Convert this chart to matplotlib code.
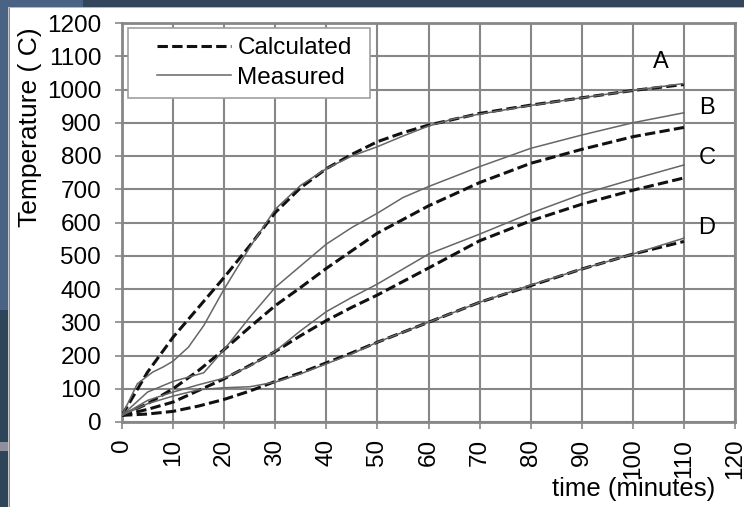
import matplotlib
matplotlib.use("Agg")
import matplotlib.pyplot as plt
from matplotlib import font_manager
from matplotlib.patches import Rectangle
from matplotlib.lines import Line2D
from matplotlib.legend_handler import HandlerLine2D

# ---- data (time in minutes, temperature in deg C) ----
t_a_calc = [0, 5, 10, 15, 20, 25, 30, 35, 40, 45, 50, 55, 60, 70, 80, 90, 100, 110]
a_calc = [20, 150, 255, 345, 435, 530, 630, 705, 762, 805, 843, 870, 893, 928, 953, 975, 997, 1015]
t_a_meas = [0, 3, 6, 8, 10, 13, 16, 20, 25, 30, 35, 40, 45, 50, 55, 60, 65, 70, 80, 90, 100, 110]
a_meas = [20, 115, 150, 165, 183, 225, 290, 400, 525, 640, 712, 762, 800, 828, 860, 890, 912, 926, 952, 975, 997, 1018]

t_b_meas = [0, 5, 10, 13, 16, 20, 25, 30, 35, 40, 45, 50, 55, 60, 70, 80, 90, 100, 110]
b_meas = [20, 90, 122, 135, 148, 218, 315, 405, 470, 535, 585, 628, 675, 708, 768, 823, 863, 900, 930]
t_std = [0, 5, 10, 15, 20, 25, 30, 35, 40, 45, 50, 60, 70, 80, 90, 100, 110]
b_calc = [20, 55, 100, 155, 218, 285, 350, 405, 462, 515, 568, 650, 720, 778, 820, 858, 886]

c_meas = [20, 65, 90, 112, 132, 168, 213, 275, 332, 375, 415, 505, 565, 628, 685, 730, 773]
c_calc = [20, 38, 60, 95, 130, 170, 212, 260, 305, 345, 382, 463, 545, 605, 655, 697, 734]

d_meas = [20, 55, 78, 97, 103, 106, 120, 145, 175, 205, 240, 300, 360, 412, 460, 505, 553]
d_calc = [20, 24, 32, 48, 68, 93, 122, 148, 178, 208, 240, 300, 360, 410, 460, 505, 543]

curve_names = ["A", "B", "C", "D"]
name_pos_x = [105.5, 114.5, 114.5, 114.5]
name_pos_y = [1083, 944, 794, 583]

x_ticks = list(range(0, 121, 10))
y_ticks = list(range(0, 1201, 100))

# ---- fonts ----
available = {f.name for f in font_manager.fontManager.ttflist}
def pick(*names):
    for n in names:
        if n in available:
            return n
    return "DejaVu Sans"

main_font = pick("Liberation Sans", "Arial", "DejaVu Sans")
plt.rcParams["font.family"] = [main_font, "DejaVu Sans"]

W, H = 744, 507
fig = plt.figure(figsize=(W / 100, H / 100), dpi=100, facecolor="white")

def px_rect(x0, y0, w, h, color, z=0):
    fig.add_artist(Rectangle((x0 / W, 1 - (y0 + h) / H), w / W, h / H,
                             transform=fig.transFigure, facecolor=color,
                             edgecolor="none", zorder=z))

# slide background peeking around the chart frame
px_rect(0, 0, W, 7, "#34465c")
px_rect(0, 0, 83, 7, "#4a6283")
px_rect(0, 0, 8, 310, "#4a6283")
px_rect(0, 310, 8, H - 310, "#2e4459")
px_rect(0, 442, 8, 9, "#8d8f9c")
px_rect(8, 7, W - 8, 1, "#b8b8b8")
px_rect(8, 7, 1, H - 7, "#c8c8c8")
px_rect(9, 8, 1.2, H - 8, "#8a8a8a")

ax = fig.add_axes([122 / W, 1 - 422 / H, 613 / W, 399 / H])
ax.set_xlim(0, 120)
ax.set_ylim(0, 1200)
ax.set_xticks(x_ticks)
ax.set_yticks(y_ticks)
ax.set_xticklabels([str(v) for v in x_ticks], rotation=90, va="top")
ax.grid(True, color="#878787", linewidth=1.5)
ax.set_axisbelow(True)
for s in ax.spines.values():
    s.set_color("#878787")
    s.set_linewidth(2.0)
ax.tick_params(axis="both", colors="#878787", labelcolor="black",
               labelsize=17.5, length=5, width=1.2)
ax.tick_params(axis="y", pad=10)
ax.tick_params(axis="x", pad=7)

calc_kw = dict(color="#111111", linewidth=2.2, dashes=(3.4, 1.4), zorder=3)
meas_kw = dict(color="#666666", linewidth=1.1, zorder=4)

ax.plot(t_a_calc, a_calc, **calc_kw)
ax.plot(t_std, b_calc, **calc_kw)
ax.plot(t_std, c_calc, **calc_kw)
ax.plot(t_std, d_calc, **calc_kw)
ax.plot(t_a_meas, a_meas, **meas_kw)
ax.plot(t_b_meas, b_meas, **meas_kw)
ax.plot(t_std, c_meas, **meas_kw)
ax.plot(t_std, d_meas, **meas_kw)

for name, xv, yv in zip(curve_names, name_pos_x, name_pos_y):
    ax.text(xv, yv, name, fontsize=17, ha="center", va="center")

handles = [Line2D([], [], **calc_kw), Line2D([], [], **meas_kw)]
leg = ax.legend(handles, ["Calculated", "Measured"], loc="upper left",
                bbox_to_anchor=(0.0098, 0.5, 0.395, 0.4875), mode="expand",
                prop={"size": 17.5},
                handler_map={Line2D: HandlerLine2D(xpad=0.8)},
                handlelength=3.87, handletextpad=0.25, labelspacing=0.3,
                borderpad=0.38, borderaxespad=0.0, fancybox=False, framealpha=1)
leg.get_frame().set_edgecolor("#a0a0a0")
leg.get_frame().set_linewidth(1.2)

fig.text(30 / W, 1 - 127 / H, "Temperature ( C)", rotation=90, fontsize=19,
         ha="center", va="center")
fig.text(634 / W, 1 - 489 / H, "time (minutes)", fontsize=18.5,
         ha="center", va="center")

fig.savefig("out.png", dpi=100, facecolor=fig.get_facecolor())
